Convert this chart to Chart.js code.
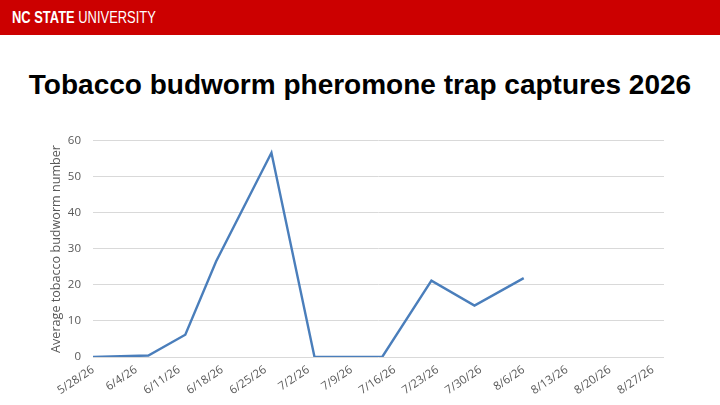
<!DOCTYPE html>
<html>
<head>
<meta charset="utf-8">
<script src="https://cdn.jsdelivr.net/npm/chart.js@4"></script>
<style>
	html, body { margin: 0; padding: 0; background: #fff; }
	body { width: 720px; height: 405px; position: relative; overflow: hidden; }
	#header { position: absolute; left: 0; top: 0; width: 720px; height: 35px; background: #cc0000; }
	#brand { position: absolute; left: 12px; top: 8px; color: #fff; font-family: "Liberation Sans", Arial, sans-serif; font-size: 17px; line-height: 19px; white-space: nowrap; transform: scaleX(0.76); transform-origin: left top; }
	#brand b { font-weight: bold; }
	#title { position: absolute; left: 0; top: 68px; width: 720px; text-align: center; font-family: "Liberation Sans", Arial, sans-serif; font-weight: bold; font-size: 28px; line-height: 34px; color: #000; }
	#chartBox { position: absolute; left: 0; top: 122px; width: 720px; height: 283px; }
</style>
</head>
<body>
<div id="header"><div id="brand"><b>NC STATE</b> UNIVERSITY</div></div>
<div id="title">Tobacco budworm pheromone trap captures 2026</div>
<div id="chartBox"><canvas id="trapChart"></canvas></div>
<script>
// sample dates and average captures
const sampleDates = ['2026-05-28', '2026-06-06', '2026-06-12', '2026-06-17', '2026-06-26',
	'2026-07-03', '2026-07-14', '2026-07-22', '2026-07-29', '2026-08-06'];
const captures = [0, 0.4, 6.2, 26.5, 56.7, 0, 0, 21.2, 14.3, 21.9];

// weekly axis labels
const tickLabels = ['5/28/26', '6/4/26', '6/11/26', '6/18/26', '6/25/26', '7/2/26', '7/9/26',
	'7/16/26', '7/23/26', '7/30/26', '8/6/26', '8/13/26', '8/20/26', '8/27/26'];
const yTicks = [0, 10, 20, 30, 40, 50, 60];

const startDay = Date.UTC(2026, 4, 28);
function dayOffset(s) {
	const p = s.split('-');
	return Math.round((Date.UTC(+p[0], +p[1] - 1, +p[2]) - startDay) / 86400000);
}

const points = sampleDates.map((d, i) => ({ x: dayOffset(d), y: captures[i] }));
const tickDays = tickLabels.map((l, i) => i * 7);

const ctx = document.getElementById('trapChart').getContext('2d');

new Chart(ctx, {
	type: 'line',
	data: {
		datasets: [{
			label: 'Average tobacco budworm number',
			data: points,
			borderColor: '#4a7ebb',
			borderWidth: 2.4,
			pointRadius: 0,
			tension: 0,
			fill: false
		}]
	},
	options: {
		responsive: true,
		maintainAspectRatio: false,
		animation: false,
		layout: { padding: { left: 49, right: 56, top: 2, bottom: 0 } },
		plugins: {
			legend: { display: false },
			tooltip: { enabled: false }
		},
		scales: {
			x: {
				type: 'linear',
				min: 0,
				max: 92.8,
				afterBuildTicks: (axis) => { axis.ticks = tickDays.map(v => ({ value: v })); },
				afterFit: (axis) => { axis.height = 48; },
				grid: { display: false, drawTicks: false },
				border: { display: false },
				ticks: {
					autoSkip: false,
					maxRotation: 34,
					minRotation: 34,
					padding: 6,
					color: '#595959',
					font: { family: 'Open Sans', size: 11.5 },
					callback: (v) => tickLabels[tickDays.indexOf(v)] || ''
				}
			},
			y: {
				min: 0,
				max: 60,
				afterBuildTicks: (axis) => { axis.ticks = yTicks.map(v => ({ value: v })); },
				afterFit: (axis) => { axis.width = 44; },
				grid: { color: '#d9d9d9', lineWidth: 1, drawTicks: false },
				border: { display: false },
				ticks: {
					padding: 12,
					color: '#595959',
					font: { family: 'Open Sans', size: 11.5 }
				},
				title: {
					display: true,
					text: 'Average tobacco budworm number',
					color: '#595959',
					padding: { top: 0, bottom: 0 },
					font: { family: 'Open Sans', size: 12.6 }
				}
			}
		}
	}
});
</script>
</body>
</html>
